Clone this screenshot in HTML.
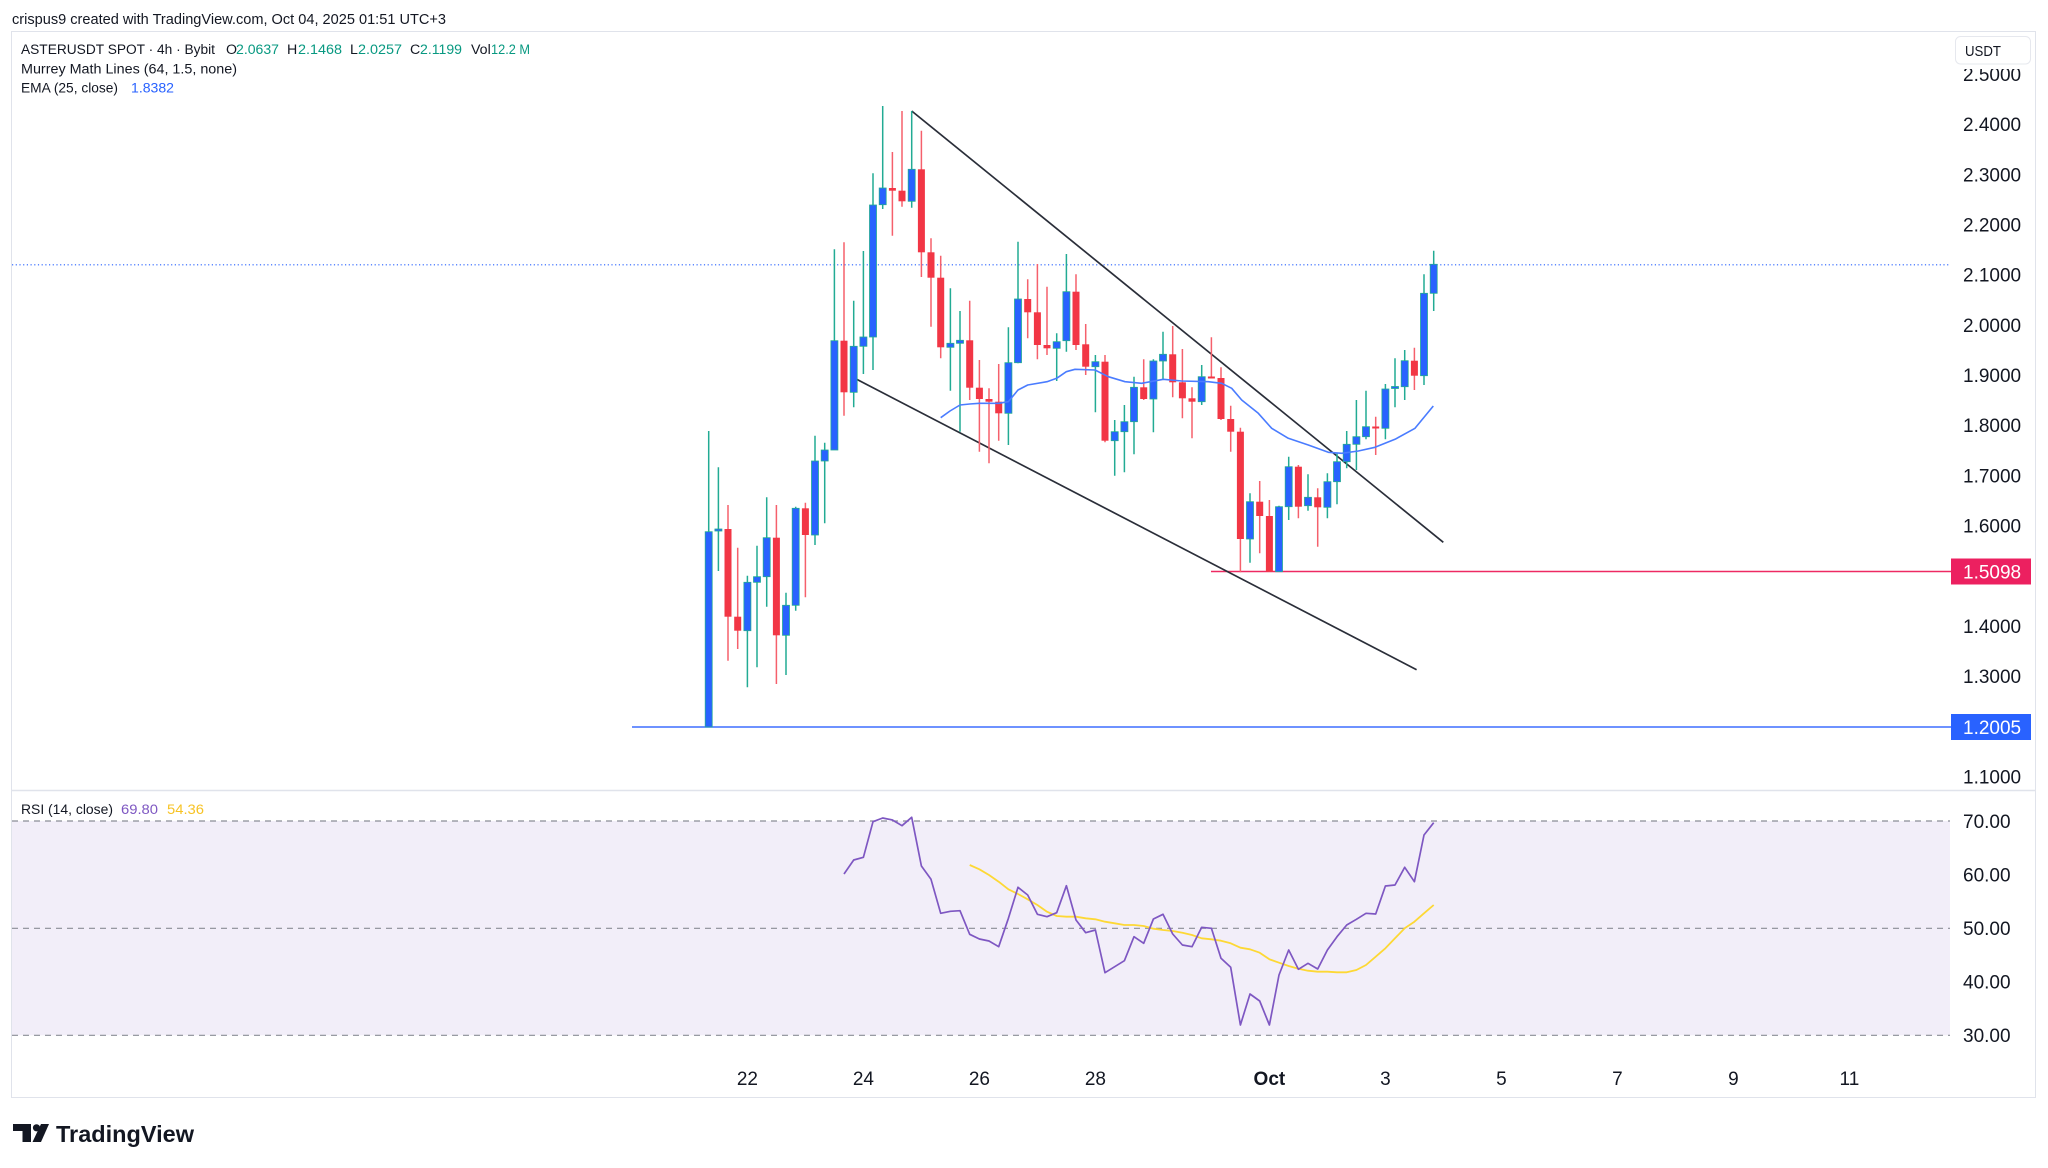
<!DOCTYPE html>
<html>
<head>
<meta charset="utf-8">
<style>
html,body{margin:0;padding:0;background:#ffffff;}
svg{display:block;}
text{font-family:"Liberation Sans",Arial,sans-serif;}
</style>
</head>
<body>
<svg width="2048" height="1168" viewBox="0 0 2048 1168" xmlns="http://www.w3.org/2000/svg">
<rect x="0" y="0" width="2048" height="1168" fill="#ffffff"/>

<!-- header -->
<text x="12" y="24" font-size="14.6" fill="#131722" textLength="434" lengthAdjust="spacingAndGlyphs">crispus9 created with TradingView.com, Oct 04, 2025 01:51 UTC+3</text>

<!-- frame -->
<rect x="11.5" y="31.5" width="2024" height="1066" fill="#ffffff" stroke="#e0e3eb" stroke-width="1"/>
<line x1="11.5" y1="790.5" x2="2035.5" y2="790.5" stroke="#e0e3eb" stroke-width="1.5"/>

<!-- RSI pane background -->
<rect x="12" y="821" width="1938" height="214.3" fill="#f2eef9"/>
<g stroke="#8a8d96" stroke-width="1.2" stroke-dasharray="6,5">
<line x1="12" y1="821" x2="1950" y2="821"/>
<line x1="12" y1="928.3" x2="1950" y2="928.3"/>
<line x1="12" y1="1035.3" x2="1950" y2="1035.3"/>
</g>

<!-- legend -->
<g font-size="14.2" fill="#131722">
<text x="21" y="54" textLength="194" lengthAdjust="spacingAndGlyphs">ASTERUSDT SPOT · 4h · Bybit</text>
<text x="226" y="54">O</text><text x="236" y="54" fill="#089981" textLength="43" lengthAdjust="spacingAndGlyphs">2.0637</text>
<text x="287" y="54">H</text><text x="298" y="54" fill="#089981" textLength="44" lengthAdjust="spacingAndGlyphs">2.1468</text>
<text x="350" y="54">L</text><text x="358" y="54" fill="#089981" textLength="44" lengthAdjust="spacingAndGlyphs">2.0257</text>
<text x="410" y="54">C</text><text x="420" y="54" fill="#089981" textLength="42" lengthAdjust="spacingAndGlyphs">2.1199</text>
<text x="471" y="54">Vol</text><text x="491" y="54" fill="#089981" textLength="39" lengthAdjust="spacingAndGlyphs">12.2 M</text>
<text x="21" y="73.3" textLength="216" lengthAdjust="spacingAndGlyphs">Murrey Math Lines (64, 1.5, none)</text>
<text x="21" y="92.7" textLength="97" lengthAdjust="spacingAndGlyphs">EMA (25, close)</text>
<text x="131" y="92.7" fill="#2962ff" textLength="43" lengthAdjust="spacingAndGlyphs">1.8382</text>
<text x="21" y="814" textLength="92" lengthAdjust="spacingAndGlyphs">RSI (14, close)</text>
<text x="121" y="814" fill="#7e57c2" textLength="37" lengthAdjust="spacingAndGlyphs">69.80</text>
<text x="167" y="814" fill="#f7c325" textLength="37" lengthAdjust="spacingAndGlyphs">54.36</text>
</g>

<!-- current price dotted line -->
<line x1="12" y1="264.8" x2="1950" y2="264.8" stroke="#2962ff" stroke-width="1.2" stroke-dasharray="1.2,2.5"/>

<!-- horizontal levels -->
<line x1="1211" y1="571.5" x2="1951" y2="571.5" stroke="#ee2a62" stroke-width="1.5"/>
<line x1="632" y1="727" x2="1951" y2="727" stroke="#3f6fff" stroke-width="1.5"/>

<!-- trendlines -->
<line x1="856.7" y1="379.3" x2="1416.6" y2="669.7" stroke="#2a2e39" stroke-width="1.7"/>
<line x1="911.7" y1="111" x2="1443.3" y2="542.3" stroke="#2a2e39" stroke-width="1.7"/>

<!-- wicks -->
<path fill="none" stroke="#22ab94" stroke-width="1.5" d="M708.7,431V727 M718.4,467.3V571 M747.4,575.7V687.3 M757,545.7V667.3 M766.7,497.3V606.7 M786,592.7V675 M795.7,506.7V610.7 M815,435.7V545 M824.7,442.7V523.3 M834.4,249.3V450 M853.7,300.7V407.3 M863.4,251V374 M873,173.3V370 M882.7,106V209 M911.7,111V207.7 M950.4,288.3V390.7 M960,311V431.7 M1008.4,327.3V445 M1018,241.7V363.3 M1056.7,333.3V381 M1066.4,254V351.7 M1095.4,355V412.3 M1114.7,420V475.7 M1124.4,405V472.3 M1134,376.7V454.3 M1153.4,359.3V432.3 M1163,331.7V379 M1201.7,365V405 M1250,493.3V562.7 M1279,505.7V571.7 M1288.7,456.7V520 M1308,474.3V510.7 M1327.4,473.3V518.3 M1337,453.3V504.3 M1346.7,431V468.3 M1356.4,400V470 M1366,390.7V439.3 M1385.4,384V439.3 M1395,358.3V407.3 M1404.7,350V400 M1424,274.3V385 M1433.7,250.7V311"/>
<path fill="none" stroke="#f5606c" stroke-width="1.5" d="M728,505V660.7 M737.7,547.7V649 M776.4,505V684 M805.4,502.7V597.3 M844,242.3V415.7 M892.4,152V235.7 M902,111V206.7 M921.4,130.7V277 M931,238.3V326.7 M940.7,255.7V358.3 M969.7,300.7V400 M979.4,360V451.7 M989,388.3V463.3 M998.7,364V440.7 M1027.7,279.3V338.3 M1037.4,264V359.3 M1047,286.7V355 M1076,274.3V350 M1085.7,324V375 M1105,355V442.3 M1143.7,359.3V400 M1172.7,326V397.3 M1182.4,349V418.3 M1192,387.3V438.3 M1211.4,337.3V378 M1221,367.3V420 M1230.7,405.7V451.7 M1240.4,427.7V572.3 M1259.7,481V553.3 M1269.4,500V571.7 M1298.4,465V518.3 M1317.7,488.3V546.7 M1375.7,416.7V455 M1414.4,347.7V390"/>

<!-- up bodies -->
<g fill="#2962ff" stroke="#22ab94" stroke-width="0.8">
<rect x="705.2" y="531.7" width="7" height="195.3"/>
<rect x="714.9" y="529" width="7" height="2"/>
<rect x="743.9" y="582.3" width="7" height="48.4"/>
<rect x="753.5" y="576.7" width="7" height="5.6"/>
<rect x="763.2" y="537.7" width="7" height="39"/>
<rect x="782.5" y="605.3" width="7" height="30"/>
<rect x="792.2" y="508.3" width="7" height="97"/>
<rect x="811.5" y="461" width="7" height="74"/>
<rect x="821.2" y="450" width="7" height="11"/>
<rect x="830.9" y="340.7" width="7" height="109.3"/>
<rect x="850.2" y="346.3" width="7" height="46"/>
<rect x="859.9" y="337" width="7" height="9.3"/>
<rect x="869.5" y="205" width="7" height="132"/>
<rect x="879.2" y="188" width="7" height="16.7"/>
<rect x="908.2" y="169.3" width="7" height="32"/>
<rect x="946.9" y="343.3" width="7" height="4"/>
<rect x="956.5" y="340.3" width="7" height="3"/>
<rect x="1004.9" y="362.7" width="7" height="50.6"/>
<rect x="1014.5" y="299" width="7" height="63.7"/>
<rect x="1053.2" y="341.7" width="7" height="6.6"/>
<rect x="1062.9" y="291.7" width="7" height="49"/>
<rect x="1091.9" y="361.7" width="7" height="5"/>
<rect x="1111.2" y="431.7" width="7" height="9"/>
<rect x="1120.9" y="421.7" width="7" height="10"/>
<rect x="1130.5" y="387.3" width="7" height="34.4"/>
<rect x="1149.9" y="361" width="7" height="38"/>
<rect x="1159.5" y="354.3" width="7" height="6.7"/>
<rect x="1198.2" y="376.7" width="7" height="25"/>
<rect x="1246.5" y="501.7" width="7" height="37.3"/>
<rect x="1275.5" y="506.7" width="7" height="65"/>
<rect x="1285.2" y="466.7" width="7" height="40"/>
<rect x="1304.5" y="497.3" width="7" height="8.4"/>
<rect x="1323.9" y="481.7" width="7" height="25.6"/>
<rect x="1333.5" y="461.7" width="7" height="20"/>
<rect x="1343.2" y="444.3" width="7" height="17.4"/>
<rect x="1352.9" y="436.7" width="7" height="7.6"/>
<rect x="1362.5" y="426.7" width="7" height="10"/>
<rect x="1381.9" y="389" width="7" height="39.3"/>
<rect x="1391.5" y="386.5" width="7" height="2"/>
<rect x="1401.2" y="360.7" width="7" height="26"/>
<rect x="1420.5" y="293.3" width="7" height="82.4"/>
<rect x="1430.2" y="264.3" width="7" height="29"/>
</g>

<!-- down bodies -->
<g fill="#f23645">
<rect x="724.5" y="529" width="7" height="87.7"/>
<rect x="734.2" y="616.7" width="7" height="14"/>
<rect x="772.9" y="537.7" width="7" height="97.6"/>
<rect x="801.9" y="508.3" width="7" height="26.7"/>
<rect x="840.5" y="340.7" width="7" height="51.6"/>
<rect x="888.9" y="188" width="7" height="2.7"/>
<rect x="898.5" y="190.7" width="7" height="10.6"/>
<rect x="917.9" y="169.3" width="7" height="83"/>
<rect x="927.5" y="252.3" width="7" height="25.4"/>
<rect x="937.2" y="277.7" width="7" height="69.6"/>
<rect x="966.2" y="340.3" width="7" height="47.4"/>
<rect x="975.9" y="387.7" width="7" height="11.3"/>
<rect x="985.5" y="399" width="7" height="2.7"/>
<rect x="995.2" y="401.7" width="7" height="11.6"/>
<rect x="1024.2" y="299" width="7" height="13.3"/>
<rect x="1033.9" y="312.3" width="7" height="32.7"/>
<rect x="1043.5" y="345" width="7" height="3.3"/>
<rect x="1072.5" y="291.7" width="7" height="53.3"/>
<rect x="1082.2" y="344.3" width="7" height="22.4"/>
<rect x="1101.5" y="361.7" width="7" height="79"/>
<rect x="1140.2" y="387.3" width="7" height="11.7"/>
<rect x="1169.2" y="354.3" width="7" height="28"/>
<rect x="1178.9" y="382.3" width="7" height="16"/>
<rect x="1188.5" y="398.3" width="7" height="3.4"/>
<rect x="1207.9" y="376.5" width="7" height="2"/>
<rect x="1217.5" y="378" width="7" height="41"/>
<rect x="1227.2" y="419" width="7" height="12.7"/>
<rect x="1236.9" y="431.7" width="7" height="107.3"/>
<rect x="1256.2" y="501.7" width="7" height="14.3"/>
<rect x="1265.9" y="516" width="7" height="55.7"/>
<rect x="1294.9" y="466.7" width="7" height="40"/>
<rect x="1314.2" y="497.3" width="7" height="10"/>
<rect x="1372.2" y="426.5" width="7" height="2"/>
<rect x="1410.9" y="360.7" width="7" height="15"/>
</g>

<!-- EMA -->
<polyline fill="none" stroke="#4a7cff" stroke-width="1.6" stroke-linejoin="round" points="940.7,417.7 950,411 960,405 969.7,404 979.3,403.3 998.7,403.3 1008.3,401.7 1018,390 1027.7,385 1047,381.7 1056.7,378.3 1066.3,371.7 1075,369.3 1095,370 1108.3,376.7 1125,381.7 1141.7,383.3 1163.3,379.3 1181.7,381 1208.3,381.7 1221.7,383.3 1231.7,388.3 1241.7,400 1258.3,413.3 1271.7,428.3 1288.3,438.3 1308.3,445 1328.3,452.3 1341.7,453.3 1358.3,451 1375,447.3 1395,439.3 1415,428.3 1433.3,406"/>

<!-- RSI MA -->
<polyline fill="none" stroke="#fdd835" stroke-width="1.8" stroke-linejoin="round" points="969.7,865 979.4,869.3 989,875 998.7,881.7 1008.4,889.3 1018,894 1027.7,899.3 1037.4,905 1047,911.7 1056.7,916 1066.4,916.7 1076,916.7 1085.7,918.3 1095.4,919.3 1105,921.7 1114.7,923.3 1124.4,925 1134,925 1143.7,926 1153.4,928.7 1163,930 1172.7,931 1182.4,932.7 1192,935 1201.7,938.3 1211.4,939.3 1221,940.7 1230.7,943.3 1240.4,947.7 1250,949.3 1259.7,952.7 1269.4,959.3 1279,962.7 1288.7,966 1298.4,968.7 1308,970.7 1317.7,971.7 1327.4,971.7 1337,972.3 1346.7,972.3 1356.4,970 1366,965 1375.7,956.7 1385.4,948.3 1395,938.3 1404.7,928.3 1414.4,921.7 1424,913.3 1433.7,905"/>

<!-- RSI -->
<polyline fill="none" stroke="#7e57c2" stroke-width="1.7" stroke-linejoin="round" points="844,874 853.7,860 863.4,857.3 873,821.7 882.7,818 892.4,820 902,825.7 911.7,817.3 921.4,866 931,879.3 940.7,913.3 950.4,911.3 960,910.7 969.7,934.3 979.4,939 989,941 998.7,946.7 1008.4,918.3 1018,887.3 1027.7,895 1037.4,914.3 1047,916.7 1056.7,912.7 1066.4,885.7 1076,920 1085.7,932.7 1095.4,930 1105,972.7 1114.7,966.7 1124.4,960.7 1134,936.7 1143.7,943.3 1153.4,919 1163,914.3 1172.7,934 1182.4,945 1192,946.7 1201.7,927.3 1211.4,928.3 1221,958.3 1230.7,967.3 1240.4,1025 1250,994 1259.7,1001 1269.4,1025 1279,975 1288.7,950 1298.4,969.3 1308,963.3 1317.7,969 1327.4,950 1337,936.7 1346.7,925 1356.4,919.3 1366,913.3 1375.7,914 1385.4,886 1395,885 1404.7,867.3 1414.4,881.7 1424,835 1433.7,822.7"/>

<!-- price axis -->
<g font-size="19" fill="#131722">
<text x="1963" y="80.8">2.5000</text>
<rect x="1944" y="32" width="91" height="37" fill="#ffffff"/>
<text x="1963" y="131.1">2.4000</text>
<text x="1963" y="181.3">2.3000</text>
<text x="1963" y="231.5">2.2000</text>
<text x="1963" y="281.7">2.1000</text>
<text x="1963" y="331.8">2.0000</text>
<text x="1963" y="382">1.9000</text>
<text x="1963" y="432.2">1.8000</text>
<text x="1963" y="482.4">1.7000</text>
<text x="1963" y="532.6">1.6000</text>
<text x="1963" y="633">1.4000</text>
<text x="1963" y="683.2">1.3000</text>
<text x="1963" y="783.6">1.1000</text>
<text x="1963" y="827.8">70.00</text>
<text x="1963" y="881.5">60.00</text>
<text x="1963" y="935.1">50.00</text>
<text x="1963" y="988.6">40.00</text>
<text x="1963" y="1042.1">30.00</text>
</g>
<rect x="1951" y="558.5" width="80" height="26" fill="#ec2060"/>
<text x="1963" y="578.3" font-size="19" fill="#ffffff">1.5098</text>
<rect x="1951" y="714" width="80" height="26" fill="#2962ff"/>
<text x="1963" y="733.8" font-size="19" fill="#ffffff">1.2005</text>

<!-- USDT box -->
<rect x="1955.5" y="36.5" width="75" height="27.5" rx="5" fill="#ffffff" stroke="#e6e8ee" stroke-width="1"/>
<text x="1965" y="56" font-size="14.5" fill="#131722" textLength="36" lengthAdjust="spacingAndGlyphs">USDT</text>

<!-- time axis -->
<g font-size="19" fill="#131722" text-anchor="middle">
<text x="747.4" y="1085">22</text>
<text x="863.4" y="1085">24</text>
<text x="979.4" y="1085">26</text>
<text x="1095.4" y="1085">28</text>
<text x="1269.4" y="1085" font-weight="bold">Oct</text>
<text x="1385.4" y="1085">3</text>
<text x="1501.4" y="1085">5</text>
<text x="1617.4" y="1085">7</text>
<text x="1733.4" y="1085">9</text>
<text x="1849.4" y="1085">11</text>
</g>

<!-- TradingView logo -->
<g fill="#131722">
<path d="M13,1124 H31 V1142 H22.5 V1131 H13 Z"/>
<circle cx="36.5" cy="1127.8" r="3.6"/>
<polygon points="41,1124 49,1124 41,1142 32.5,1142"/>
</g>
<text x="56" y="1142" font-size="23.5" font-weight="bold" fill="#131722" textLength="138" lengthAdjust="spacingAndGlyphs">TradingView</text>
</svg>
</body>
</html>
